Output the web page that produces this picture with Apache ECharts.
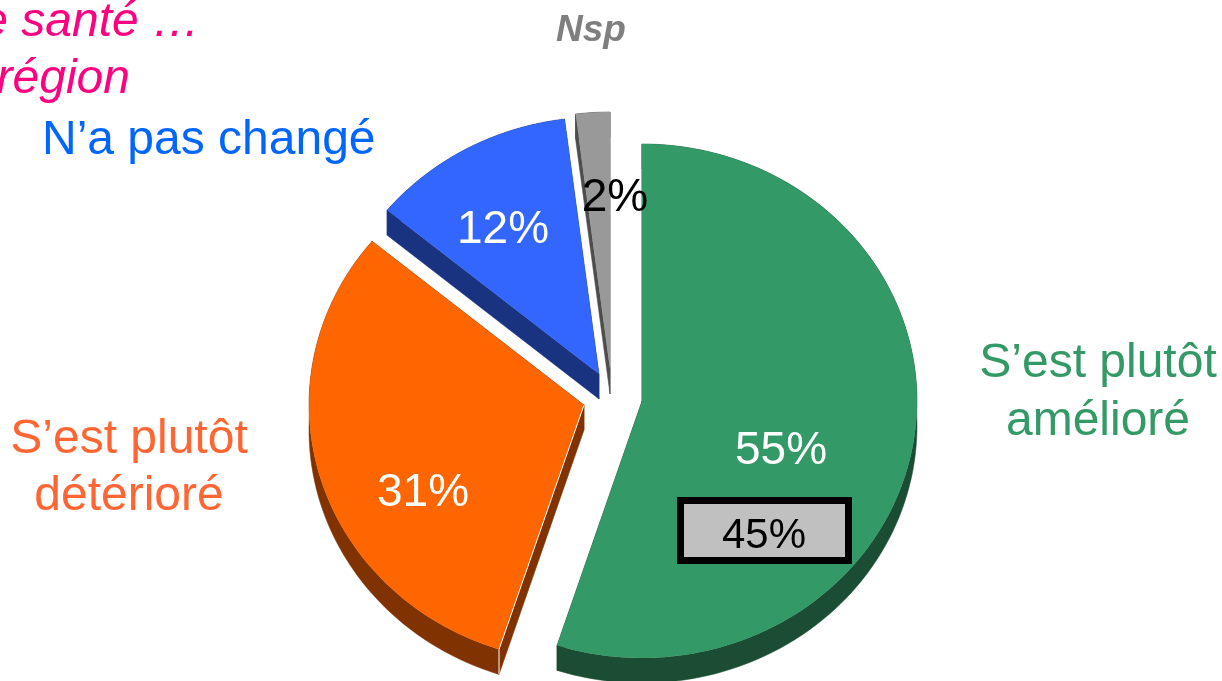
<!DOCTYPE html>
<html style="height: 100%">
<head>
    <meta charset="utf-8" />
    <title>Pie Chart</title>
    <script type="text/javascript" src="https://cdn.jsdelivr.net/npm/echarts@6/dist/echarts.min.js"></script>
</head>
<body style="height: 100%; margin: 0; background: #fff">
<div id="Pie" style="width: 1222px; height: 681px"></div>
<script type="text/javascript">
      // data
      var categories = ["S’est plutôt\namélioré", "S’est plutôt\ndétérioré", "N’a pas changé", "Nsp"];
      var sliceValues = [55, 31, 12, 2];
      var previousValue = 45; // boxed figure in the green slice
      var titleLines = ["e santé …", "région"];

      // look of the slices, one entry per category
      var topColors = ["#339966", "#FF6600", "#3366FF", "#999999"];
      var sideColors = ["#1A4D33", "#803300", "#1A3380", "#4D4D4D"];
      var labelColors = ["#339966", "#FF6633", "#0066FF", "#7F7F7F"];
      var valueColors = ["#fff", "#fff", "#fff", "#000"];
      var apexes = [[642, 401], [584, 405], [599, 374], [610, 369]]; // exploded centres
      var valueSpots = [[781, 451], [423, 493], [503, 230], [615, 198]];
      var rx = 275, ry = 257, depth = 25;
      var font = '"Liberation Sans", Arial, sans-serif';

      pieChart();

      // elliptical arc from a to b, in fractions of the whole turn, clockwise from 12 o'clock
      function arcPoints(apex, a, b) {
        var pts = [];
        var n = Math.max(4, Math.ceil((b - a) * 200));
        for (var i = 0; i <= n; i++) {
          var t = (a + (b - a) * i / n) * 2 * Math.PI;
          pts.push([apex[0] + rx * Math.sin(t), apex[1] - ry * Math.cos(t)]);
        }
        return pts;
      }

      function shifted(pts) {
        return pts.map(function (p) { return [p[0], p[1] + depth]; });
      }

      function pieChart() {
        var myChart = echarts.init(document.getElementById("Pie"));
        var total = sliceValues.reduce(function (s, v) { return s + v; }, 0);
        var starts = [];
        sliceValues.reduce(function (s, v, i) { starts[i] = s; return s + v; }, 0);

        var option = {
          animation: false,
          backgroundColor: "#fff",
          series: [
            {
              type: "custom",
              coordinateSystem: "none",
              data: sliceValues.map(function (v, i) { return { value: [v, starts[i], i] }; }),
              renderItem: function (params, api) {
                var i = api.value(2);
                var a = api.value(1) / total;
                var b = a + api.value(0) / total;
                var apex = apexes[i];
                var arc = arcPoints(apex, a, b);
                var sideStyle = { fill: sideColors[i], stroke: sideColors[i], lineWidth: 0.5 };
                var first = arc[0], last = arc[arc.length - 1];
                var children = [
                  // side walls first, then the top face over them
                  { type: "polygon", shape: { points: arc.concat(shifted(arc).reverse()) }, style: sideStyle },
                  { type: "polygon", shape: { points: [apex, first, [first[0], first[1] + depth], [apex[0], apex[1] + depth]] }, style: sideStyle },
                  { type: "polygon", shape: { points: [apex, last, [last[0], last[1] + depth], [apex[0], apex[1] + depth]] }, style: sideStyle },
                  { type: "polygon", shape: { points: [apex].concat(arc) }, style: { fill: topColors[i] } }
                ];
                if (i === 1) {
                  // thin white highlight along the front edge of the orange slice
                  children.push({
                    type: "polyline",
                    shape: { points: [apex, first, [first[0], first[1] + depth]] },
                    style: { stroke: "#fff", lineWidth: 1, fill: null }
                  });
                }
                return { type: "group", children: children };
              }
            }
          ],
          graphic: {
            elements: [
              text(1098, 393, categories[0], labelColors[0], 48, "center", 58),
              text(129, 468, categories[1], labelColors[1], 48, "center", 57),
              text(42, 141, categories[2], labelColors[2], 48, "left"),
              { type: "text", z: 10, style: { x: 591, y: 31, text: categories[3], fill: labelColors[3], align: "center", verticalAlign: "middle", font: "italic bold 37px " + font } },
              { type: "text", z: 10, style: { x: 200, y: 23, text: titleLines[0], fill: "#FF0080", align: "right", verticalAlign: "middle", font: "italic 48px " + font } },
              { type: "text", z: 10, style: { x: 130, y: 80, text: titleLines[1], fill: "#FF0080", align: "right", verticalAlign: "middle", font: "italic 48px " + font } },
              { type: "rect", z: 10, shape: { x: 680.5, y: 500.5, width: 168, height: 60 }, style: { fill: "#C0C0C0", stroke: "#000", lineWidth: 7 } },
              text(764, 536, previousValue + "%", "#000", 42, "center")
            ].concat(sliceValues.map(function (v, i) {
              return text(valueSpots[i][0], valueSpots[i][1], v + "%", valueColors[i], 46, "center");
            }))
          }
        };
        myChart.setOption(option);
        window.addEventListener("resize", function () {
          myChart.resize();
        });
      }

      function text(x, y, str, color, size, align, lineHeight) {
        return {
          type: "text",
          z: 11,
          style: {
            x: x, y: y, text: str, fill: color, align: align, verticalAlign: "middle",
            font: size + "px " + font, lineHeight: lineHeight || size
          }
        };
      }
    </script>
</body>
</html>
